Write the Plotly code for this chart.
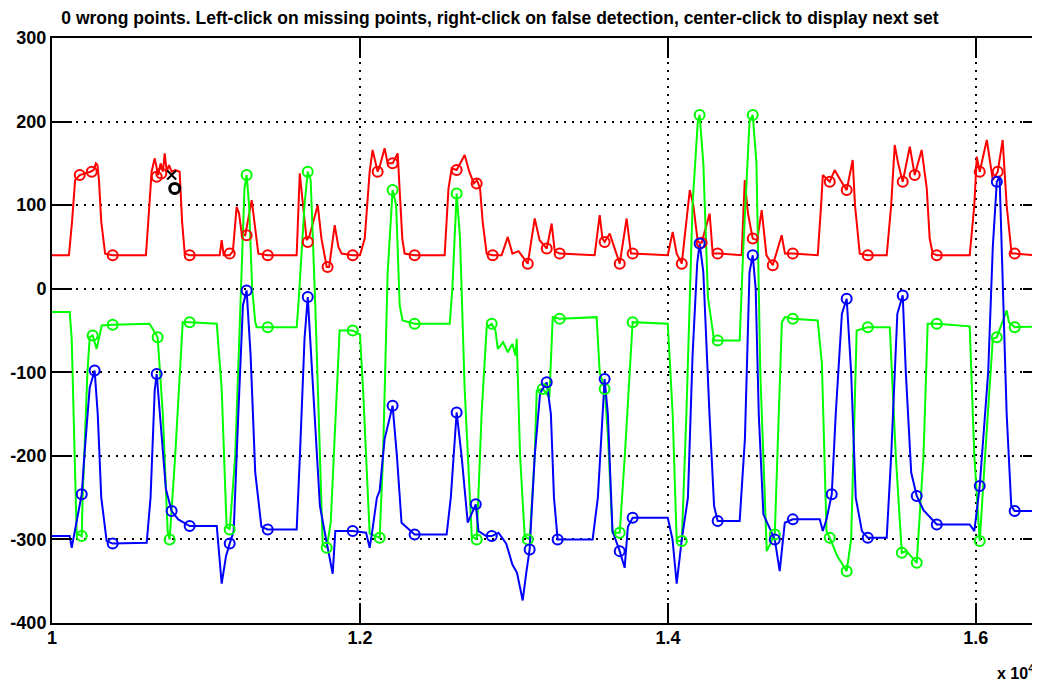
import plotly.graph_objects as go

# red trace
red_x = [10000, 10110, 10130, 10150, 10180, 10220, 10250, 10270, 10285, 10295, 10305, 10320, 10345, 10394,
         10610, 10625, 10647, 10667, 10690, 10705, 10720, 10732, 10745, 10760, 10777, 10800, 10829, 10845, 10862,
         10894, 11089, 11102, 11115, 11154, 11175, 11199, 11215, 11232, 11255, 11297, 11320, 11340, 11401, 11589,
         11609, 11630, 11654, 11670, 11726, 11750, 11784, 11800, 11836, 11860, 11881, 11953, 12000, 12031, 12063,
         12082, 12115, 12128, 12160, 12180, 12212, 12245, 12258, 12275, 12290, 12355, 12550, 12575, 12596, 12628,
         12680, 12710, 12740, 12760, 12780, 12797, 12823, 12862, 12920, 12960, 12990, 13030, 13090, 13135, 13167,
         13213, 13245, 13265, 13297, 13524, 13557, 13575, 13589, 13622, 13660, 13687, 13732, 13760, 13771, 13999,
         14031, 14057, 14090, 14142, 14165, 14194, 14219, 14271, 14291, 14336, 14479, 14499, 14520, 14551, 14580,
         14609, 14640, 14681, 14739, 14760, 14811, 14973, 14995, 15006, 15051, 15083, 15120, 15161, 15200, 15215,
         15246, 15298, 15421, 15450, 15473, 15495, 15525, 15571, 15603, 15648, 15681, 15700, 15720, 15746, 15960,
         15990, 16006, 16025, 16071, 16110, 16142, 16174, 16200, 16232, 16252, 16395, 16405, 16440]
red_y = [40, 40, 80, 130, 136, 138, 140, 142, 150, 148, 130, 80, 42, 40,
         40, 80, 140, 156, 136, 150, 140, 162, 140, 148, 140, 142, 140, 80, 42,
         40, 40, 58, 40, 40, 45, 98, 90, 66, 64, 106, 70, 42, 40, 40,
         138, 100, 58, 62, 100, 60, 26, 26, 76, 50, 42, 40, 40, 60, 140,
         166, 140, 146, 168, 150, 150, 162, 120, 60, 42, 40, 40, 120, 144, 142,
         160, 140, 126, 130, 120, 80, 42, 40, 40, 62, 42, 45, 30, 84, 58,
         48, 78, 45, 42, 40, 88, 60, 56, 66, 45, 30, 84, 42, 42, 40,
         68, 42, 30, 118, 100, 56, 55, 90, 42, 42, 40, 130, 90, 60, 58,
         94, 40, 28, 64, 42, 42, 40, 100, 136, 128, 142, 130, 118, 154, 100,
         42, 40, 40, 100, 172, 150, 128, 170, 136, 166, 120, 60, 42, 40, 40,
         100, 158, 140, 178, 130, 140, 178, 100, 42, 42, 40, 100, 170]

red_pts_x = [10180, 10258, 10680, 10710, 10394, 10894, 11154, 11264, 11401, 11661, 11790, 11953, 12115, 12212,
             12355, 12628, 12758, 12862, 13090, 13213, 13297, 13589, 13687, 13771, 14090, 14219, 14323, 14551,
             14681, 14811, 15051, 15161, 15298, 15525, 15603, 15746, 16025, 16142, 16252]
red_pts_y = [136, 140, 134, 138, 40, 40, 42, 64, 40, 56, 26, 40, 140, 150,
             40, 142, 126, 40, 30, 48, 42, 56, 30, 42, 30, 55, 42, 60,
             28, 42, 128, 118, 40, 128, 136, 40, 140, 140, 42]

# green trace
green_x = [10000, 10115, 10128, 10140, 10160, 10193, 10199, 10230, 10245, 10264, 10290, 10323, 10394, 10634,
           10660, 10686, 10720, 10751, 10764, 10800, 10849, 10894, 11070, 11102, 11134, 11154, 11190, 11225,
           11250, 11264, 11280, 11300, 11320, 11329, 11401, 11589, 11600, 11640, 11661, 11680, 11710, 11758,
           11784, 11810, 11868, 11953, 12000, 12020, 12063, 12128, 12150, 12180, 12212, 12235, 12258, 12277,
           12355, 12583, 12600, 12628, 12650, 12680, 12726, 12758, 12790, 12823, 12856, 12880, 12895, 12930,
           12960, 12990, 13010, 13018, 13040, 13070, 13102, 13135, 13148, 13187, 13230, 13245, 13252, 13297,
           13537, 13557, 13589, 13610, 13640, 13687, 13720, 13771, 13999, 14031, 14057, 14090, 14120, 14160,
           14194, 14206, 14230, 14260, 14300, 14323, 14466, 14490, 14530, 14551, 14575, 14600, 14642, 14694,
           14740, 14759, 14811, 14973, 15000, 15030, 15051, 15100, 15161, 15190, 15226, 15298, 15441, 15480,
           15519, 15550, 15616, 15660, 15687, 15746, 15960, 15990, 16025, 16060, 16110, 16136, 16170, 16200,
           16215, 16252, 16440]
green_y = [-28, -28, -60, -154, -293, -296, -250, -100, -58, -56, -72, -44, -43, -42,
           -50, -58, -150, -290, -300, -200, -40, -40, -42, -120, -285, -288, -200, 0,
           120, 136, 100, 0, -40, -46, -46, -46, -20, 100, 140, 130, -20, -306,
           -310, -280, -50, -50, -55, -120, -293, -298, -200, 20, 118, 100, -20, -38,
           -42, -42, 0, 114, 60, -120, -296, -300, -150, -46, -42, -50, -72, -64,
           -76, -66, -80, -60, -200, -296, -300, -200, -122, -120, -130, -60, -34, -36,
           -34, -100, -120, -174, -292, -292, -200, -40, -42, -150, -302, -302, -150, 100,
           200, 208, 150, -10, -62, -62, -62, 50, 200, 208, 150, -100, -314, -294,
           -40, -34, -36, -38, -90, -290, -298, -320, -338, -300, -50, -46, -46, -200,
           -316, -314, -328, -200, -42, -42, -45, -200, -302, -200, -60, -58, -40, -26,
           -40, -46, -45]

green_pts_x = [10193, 10264, 10394, 10686, 10764, 10894, 11154, 11264, 11401, 11661, 11784, 11953, 12128,
               12212, 12355, 12628, 12758, 12856, 13090, 13187, 13297, 13589, 13687, 13771, 14090, 14206,
               14323, 14551, 14694, 14811, 15051, 15161, 15298, 15519, 15616, 15746, 16025, 16136, 16252]
green_pts_y = [-296, -56, -43, -58, -300, -40, -288, 136, -46, 140, -310, -50, -298,
               118, -42, 114, -300, -42, -300, -120, -36, -120, -292, -40, -302, 208,
               -62, 208, -294, -36, -298, -338, -46, -316, -328, -42, -302, -58, -46]

# blue trace
blue_x = [10000, 10115, 10128, 10160, 10193, 10210, 10245, 10277, 10297, 10320, 10355, 10394, 10615, 10640,
          10667, 10680, 10700, 10740, 10777, 10820, 10894, 11070, 11102, 11130, 11154, 11180, 11210, 11240,
          11264, 11290, 11320, 11360, 11401, 11589, 11610, 11640, 11661, 11690, 11740, 11780, 11823, 11840,
          11953, 12040, 12063, 12080, 12110, 12128, 12160, 12212, 12240, 12270, 12355, 12563, 12590, 12628,
          12660, 12700, 12752, 12770, 12820, 12856, 12900, 12950, 12990, 13020, 13057, 13080, 13102, 13135,
          13170, 13213, 13240, 13260, 13284, 13511, 13545, 13589, 13610, 13640, 13687, 13719, 13740, 13771,
          13999, 14030, 14057, 14090, 14130, 14160, 14190, 14206, 14230, 14270, 14300, 14323, 14466, 14500,
          14530, 14551, 14570, 14590, 14620, 14694, 14726, 14759, 14811, 14986, 15006, 15030, 15064, 15090,
          15130, 15161, 15190, 15220, 15260, 15298, 15421, 15450, 15490, 15525, 15545, 15580, 15616, 15660,
          15746, 15960, 15990, 16025, 16080, 16110, 16136, 16154, 16175, 16200, 16230, 16252, 16395, 16440]
blue_y = [-296, -296, -310, -280, -246, -200, -118, -98, -150, -250, -302, -305, -304, -250,
          -122, -102, -150, -240, -266, -276, -284, -284, -353, -320, -305, -290, -150, -20,
          -2, -80, -220, -285, -288, -288, -200, -60, -10, -100, -260, -300, -341, -290,
          -290, -292, -310, -290, -250, -242, -180, -140, -200, -280, -294, -294, -250, -148,
          -200, -280, -258, -290, -296, -296, -292, -305, -330, -340, -373, -340, -312, -200,
          -125, -112, -150, -250, -300, -300, -250, -108, -150, -290, -314, -334, -285, -274,
          -274, -300, -353, -300, -250, -80, 30, 54, 20, -150, -260, -278, -278, -180,
          20, 40, 0, -150, -270, -300, -338, -280, -276, -276, -290, -276, -246, -150,
          -30, -12, -100, -250, -290, -298, -298, -200, -30, -8, -100, -220, -248, -265,
          -282, -282, -290, -236, -100, 50, 128, 134, 0, -150, -260, -266, -266, -220]

blue_pts_x = [10193, 10277, 10394, 10680, 10777, 10894, 11154, 11264, 11401, 11661, 11953, 12212, 12355,
              12628, 12752, 12856, 13102, 13213, 13284, 13589, 13687, 13771, 14206, 14323, 14551, 14694,
              14811, 15064, 15161, 15298, 15525, 15616, 15746, 16025, 16136, 16252]
blue_pts_y = [-246, -98, -305, -102, -266, -284, -305, -2, -288, -10, -290, -140, -294,
              -148, -258, -296, -312, -112, -300, -108, -314, -274, 54, -278, 40, -300,
              -276, -246, -12, -298, -8, -248, -282, -236, 128, -266]

# flagged point (black)
wrong_x = [10777]
wrong_y = [136]
flag_x = [10797]
flag_y = [120]

x_ticks = [10000, 12000, 14000, 16000]
x_tick_text = ["1", "1.2", "1.4", "1.6"]
y_ticks = [-400, -300, -200, -100, 0, 100, 200, 300]
y_tick_text = ["-400", "-300", "-200", "-100", "0", "100", "200", "300"]

title = ("0 wrong points. Left-click on missing points, right-click on false detection, "
         "center-click to display next set")

RED, GREEN, BLUE = "#ff0000", "#00ff00", "#0000ff"

fig = go.Figure()
for xs, ys, c in [(red_x, red_y, RED), (green_x, green_y, GREEN), (blue_x, blue_y, BLUE)]:
    fig.add_trace(go.Scatter(x=xs, y=ys, mode="lines", line=dict(color=c, width=2),
                             hoverinfo="skip", showlegend=False))
for xs, ys, c in [(red_pts_x, red_pts_y, RED), (green_pts_x, green_pts_y, GREEN),
                  (blue_pts_x, blue_pts_y, BLUE)]:
    fig.add_trace(go.Scatter(x=xs, y=ys, mode="markers", showlegend=False,
                             marker=dict(symbol="circle-open", size=10, color=c, line=dict(width=2))))
fig.add_trace(go.Scatter(x=wrong_x, y=wrong_y, mode="markers", showlegend=False,
                         marker=dict(symbol="x-thin-open", size=9, color="black", line=dict(width=2))))
fig.add_trace(go.Scatter(x=flag_x, y=flag_y, mode="markers", showlegend=False,
                         marker=dict(symbol="circle-open", size=10, color="black", line=dict(width=3))))

axis_font = dict(family="Liberation Sans", size=18, color="black", weight="bold")
common = dict(showline=True, linecolor="black", linewidth=2, mirror="ticks", ticks="inside",
              ticklen=20, tickwidth=2, tickcolor="black", showgrid=True, gridcolor="black",
              gridwidth=2, griddash="2px,6px", zeroline=False, tickfont=axis_font,
              automargin=False)

# page body has an 8px margin, so the figure is laid out 8px up/left of the target
fig.update_xaxes(range=[10000, 16436], tickvals=x_ticks, ticktext=x_tick_text,
                 ticklabelstandoff=-3, **common)
fig.update_yaxes(range=[-400, 300], tickvals=y_ticks, ticktext=y_tick_text, **common)

fig.add_annotation(text="x 10<sup>4</sup>", xref="paper", yref="paper", x=0.952, y=-0.084,
                   xanchor="left", yanchor="middle", showarrow=False,
                   font=dict(family="Liberation Sans", size=16, color="black", weight="bold"))

fig.update_layout(
    width=1040, height=682,
    margin=dict(l=44, r=5, t=30, b=67),
    plot_bgcolor="white", paper_bgcolor="white",
    title=dict(text=title, x=0.473, xanchor="center", y=0.985, yanchor="middle",
               font=dict(family="Liberation Sans", size=17.5, color="black", weight="bold")),
)

fig.write_html("out.html")
